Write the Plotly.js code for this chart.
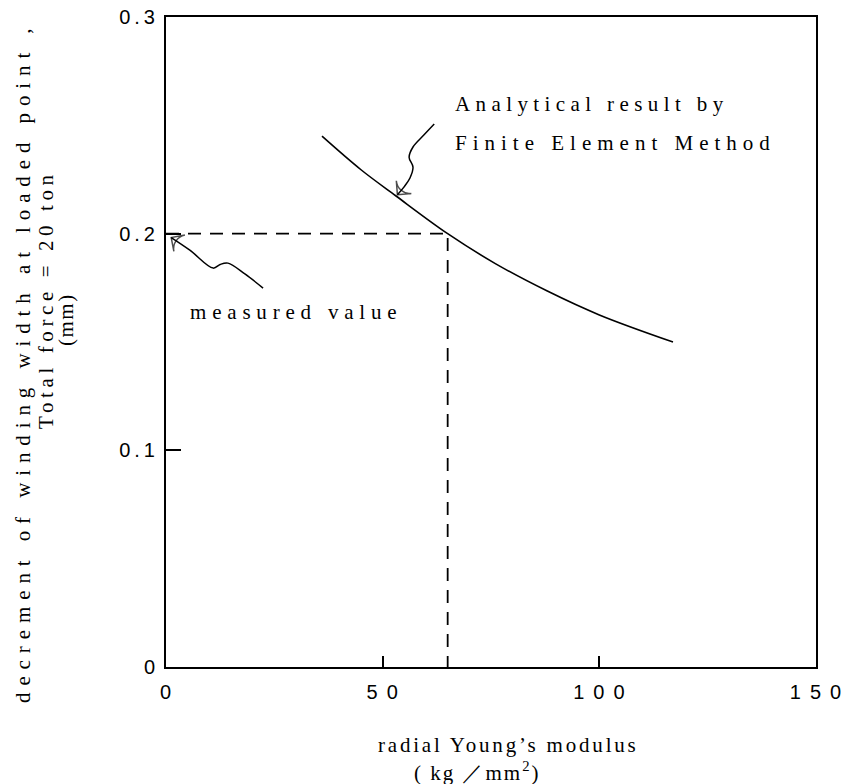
<!DOCTYPE html>
<html><head><meta charset="utf-8">
<script src="https://cdn.plot.ly/plotly-3.0.1.min.js"></script>
<style>
html,body{margin:0;padding:0;background:#fff;}
.xtick text{letter-spacing:9px;}
.ytick text{letter-spacing:4px;}
</style></head><body>
<div id="chart" style="width:851px;height:784px;"></div>
<script>
// FEM analytical curve
const modulus   = [36, 45, 53, 65, 76, 88, 100, 117];
const decrement = [0.245, 0.2295, 0.2175, 0.200, 0.1862, 0.1735, 0.1625, 0.150];
// measured value and corresponding modulus
const measuredValue = 0.2;
const modulusAtMeasured = 65;
// ticks
const xTickVals = [0, 50, 100, 150];
const xTickText = ['0', '50', '100', '150'];
const yTickVals = [0, 0.1, 0.2, 0.3];
const yTickText = ['0', '0.1', '0.2', '0.3'];
// wavy pointer lines (annotation decorations), last point = arrow tip
const measuredArrowX = [22.4, 18.2, 14.3, 12.5, 10.9, 5.5, 1.2];
const measuredArrowY = [0.1749, 0.1814, 0.1864, 0.1858, 0.1841, 0.1924, 0.1982];
const femArrowX = [61.9, 59.5, 57.0, 56.1, 57.0, 56.3, 54.9, 53.4];
const femArrowY = [0.2506, 0.2455, 0.2400, 0.2353, 0.2307, 0.2257, 0.2215, 0.2180];

const px = v => (v - 166) / 650;
const py = v => (667 - v) / 650;
const serif = 'Liberation Serif, Times New Roman, serif';
const sp = (t, s) => '<span style="letter-spacing:' + s + 'px">' + t + '</span>';

const tipSizes = arr => arr.map((_, i) => i === arr.length - 1 ? 14 : 0);
const traces = [
  {x: modulus, y: decrement, mode: 'lines', type: 'scatter',
   line: {color: '#000', width: 1.6, shape: 'spline', smoothing: 1}, hoverinfo: 'skip'},
  {x: [0, modulusAtMeasured, modulusAtMeasured], y: [measuredValue, measuredValue, 0],
   mode: 'lines', type: 'scatter', line: {color: '#000', width: 1.8, dash: '13px,9px'}, hoverinfo: 'skip'},
  {x: measuredArrowX, y: measuredArrowY, mode: 'lines+markers', type: 'scatter',
   line: {color: '#000', width: 1.5, shape: 'spline', smoothing: 1},
   marker: {symbol: 'arrow-wide-open', angleref: 'previous', size: tipSizes(measuredArrowX),
            color: '#000', line: {color: '#000', width: 1.5}}, hoverinfo: 'skip'},
  {x: femArrowX, y: femArrowY, mode: 'lines+markers', type: 'scatter',
   line: {color: '#000', width: 1.5, shape: 'spline', smoothing: 1},
   marker: {symbol: 'arrow-wide-open', angleref: 'previous', size: tipSizes(femArrowX),
            color: '#000', line: {color: '#000', width: 1.5}}, hoverinfo: 'skip'}
];

const annFont = {family: serif, size: 21, color: '#000'};
const annotations = [
  {xref: 'paper', yref: 'paper', x: px(453), y: py(104), xanchor: 'left', yanchor: 'middle',
   text: sp('Analytical result by', 5.4), showarrow: false, font: annFont},
  {xref: 'paper', yref: 'paper', x: px(453), y: py(143), xanchor: 'left', yanchor: 'middle',
   text: sp('Finite Element Method', 6), showarrow: false, font: annFont},
  {xref: 'paper', yref: 'paper', x: px(188), y: py(312), xanchor: 'left', yanchor: 'middle',
   text: sp('measured value', 5.8), showarrow: false, font: annFont},
  {xref: 'paper', yref: 'paper', x: px(23), y: py(362), xanchor: 'center', yanchor: 'middle',
   textangle: -90, text: sp('decrement of winding width at loaded point ,', 6.9), showarrow: false, font: annFont},
  {xref: 'paper', yref: 'paper', x: px(46), y: py(300), xanchor: 'center', yanchor: 'middle',
   textangle: -90, text: sp('Total force = 20 ton', 4.6), showarrow: false, font: annFont},
  {xref: 'paper', yref: 'paper', x: px(66), y: py(320), xanchor: 'center', yanchor: 'middle',
   textangle: -90, text: sp('(mm)', 1.5), showarrow: false, font: annFont},
  {xref: 'paper', yref: 'paper', x: px(376), y: py(745), xanchor: 'left', yanchor: 'middle',
   text: sp('radial Young’s modulus', 2.8), showarrow: false, font: annFont},
  {xref: 'paper', yref: 'paper', x: px(412), y: py(771), xanchor: 'left', yanchor: 'middle',
   text: sp('( kg ／mm<sup>2</sup>)', 2), showarrow: false, font: annFont}
];

const tickFont = {family: 'Liberation Sans, Arial, sans-serif', size: 20, color: '#000'};
const layout = {
  width: 851, height: 784,
  margin: {l: 166, r: 35, t: 17, b: 117},
  paper_bgcolor: '#fff', plot_bgcolor: '#fff',
  showlegend: false,
  xaxis: {range: [0, 150], tickvals: xTickVals, ticktext: xTickText, ticks: 'inside', ticklen: 11,
          tickwidth: 2, tickcolor: '#000', showline: true, linecolor: '#000', linewidth: 2, mirror: true,
          showgrid: false, zeroline: false, tickfont: tickFont, ticklabelstandoff: 6, ticklabelshift: 4,
          fixedrange: true},
  yaxis: {range: [0, 0.3], tickvals: yTickVals, ticktext: yTickText, ticks: 'inside', ticklen: 15,
          tickwidth: 2, tickcolor: '#000', showline: true, linecolor: '#000', linewidth: 2, mirror: true,
          showgrid: false, zeroline: false, tickfont: tickFont, ticklabelstandoff: 1, fixedrange: true},
  annotations: annotations
};
Plotly.newPlot('chart', traces, layout, {displayModeBar: false, staticPlot: true});
</script></body></html>
